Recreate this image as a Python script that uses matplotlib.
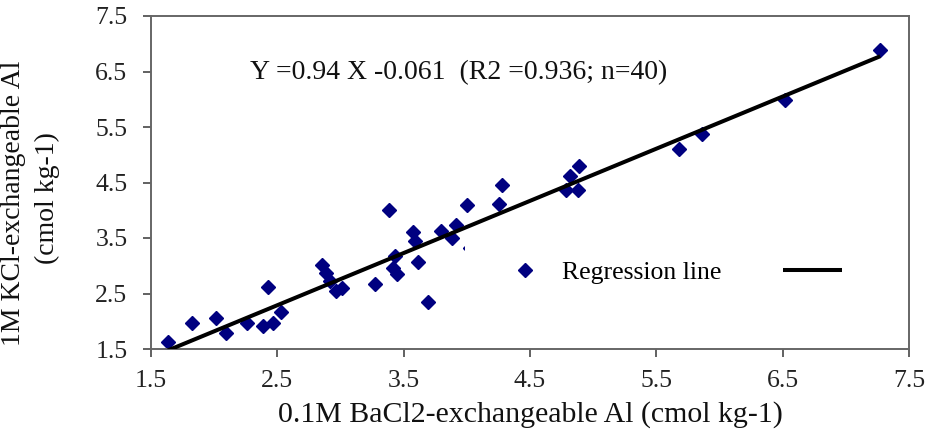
import matplotlib
matplotlib.use("Agg")
import matplotlib.pyplot as plt
import numpy as np

plt.rcParams['font.family'] = ['Liberation Serif', 'DejaVu Serif']

# Data
bacl2_al = [1.632, 1.822, 2.012, 2.094, 2.258, 2.389, 2.464, 2.527, 2.424,
            2.854, 2.882, 2.917, 2.965, 3.012, 3.274, 3.432, 3.419, 3.445,
            3.590, 3.616, 3.691, 3.387, 3.572, 3.796, 3.881, 3.915, 4.004,
            4.026, 4.277, 4.258, 4.891, 4.818, 4.786, 4.883, 7.272, 6.520,
            5.860, 5.683]
kcl_al = [1.632, 1.975, 2.065, 1.783, 1.975, 1.921, 1.964, 2.162, 2.614,
          3.016, 2.863, 2.727, 2.538, 2.601, 2.668, 3.179, 2.957, 2.848,
          3.437, 3.076, 2.354, 4.009, 3.617, 3.635, 3.498, 3.738, 4.099,
          3.314, 4.460, 4.117, 4.803, 4.623, 4.370, 4.357, 6.885, 5.995,
          5.381, 5.110]

slope = 0.94
intercept = -0.061
equation_text = "Y =0.94 X -0.061  (R2 =0.936; n=40)"
x_ticks = [1.5, 2.5, 3.5, 4.5, 5.5, 6.5, 7.5]
y_ticks = [1.5, 2.5, 3.5, 4.5, 5.5, 6.5, 7.5]
x_label = "0.1M BaCl2-exchangeable Al (cmol kg-1)"
y_label_1 = "1M KCl-exchangeable Al"
y_label_2 = "(cmol kg-1)"
legend_label = "Regression line"

W, H = 927, 438
FS_TICK = 18.5
FS_TEXT = 20
FS_XLABEL = 21.5
fig = plt.figure(figsize=(W / 100, H / 100), dpi=100)
ax = fig.add_axes([151 / W, 1 - 349 / H, (909 - 151) / W, (349 - 16) / H])

navy = '#000080'
pts, = ax.plot(bacl2_al, kcl_al, linestyle='none', marker='D', ms=7.6,
               mfc=navy, mec=navy, zorder=2)
xs = np.array([min(bacl2_al), max(bacl2_al)])
reg, = ax.plot(xs, slope * xs + intercept, color='black', lw=2.9, zorder=3,
               solid_capstyle='butt')

ax.set_xlim(1.5, 7.5)
ax.set_ylim(1.5, 7.5)
ax.set_xticks(x_ticks)
ax.set_yticks(y_ticks)
ax.set_xticklabels([f"{t:.1f}" for t in x_ticks])
ax.set_yticklabels([f"{t:.1f}" for t in y_ticks])
ax.tick_params(direction='out', length=6, width=1.3, color='#555555',
               labelsize=FS_TICK, labelcolor='#222222')
ax.tick_params(axis='x', pad=9)
ax.tick_params(axis='y', pad=11)
for s in ax.spines.values():
    s.set_color('#666666')
    s.set_linewidth(1.4)

ax.text(2.284, 6.48, equation_text, fontsize=FS_TEXT, ha='left', va='center',
        color='#111111')

fig.text(530 / W, 1 - 415 / H, x_label, fontsize=FS_XLABEL, ha='center',
         va='center', color='#111111')
fig.text(14 / W, 1 - 203 / H, y_label_1, fontsize=FS_TEXT, ha='center',
         va='center', rotation=90, color='#111111')
fig.text(47 / W, 1 - 198 / H, y_label_2, fontsize=FS_TEXT, ha='center',
         va='center', rotation=90, color='#111111')

leg = ax.legend([pts, reg], [legend_label, ''], ncol=2, numpoints=1,
                fontsize=FS_TICK, handlelength=2.3, handletextpad=0.29,
                columnspacing=2.4, borderpad=1.17, frameon=True,
                fancybox=False, loc='upper left',
                bbox_to_anchor=(465 / W, 1 - 231 / H),
                bbox_transform=fig.transFigure, borderaxespad=0)
leg.get_frame().set_facecolor('white')
leg.get_frame().set_edgecolor('none')
leg.get_frame().set_alpha(1.0)

fig.savefig("out.png", dpi=100)
